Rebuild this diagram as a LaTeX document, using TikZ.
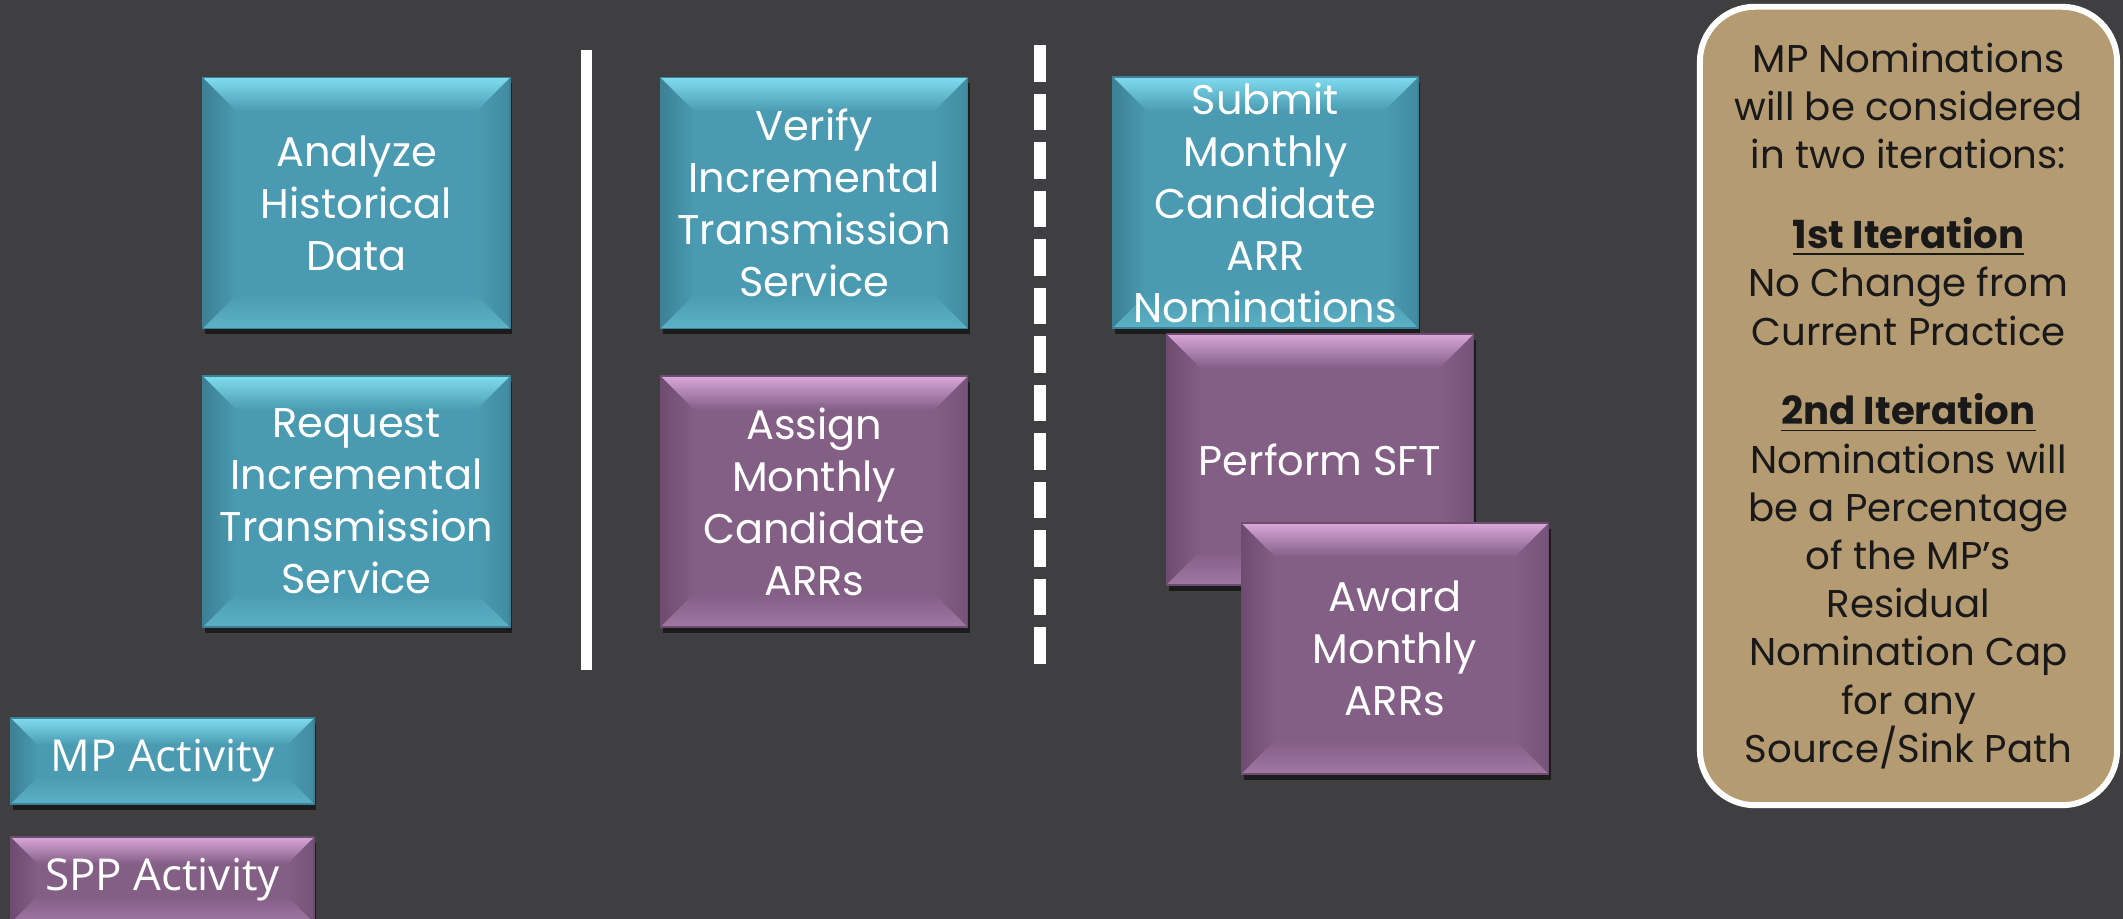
\documentclass[tikz,border=0pt]{standalone}
\usepackage{fontspec}
\setmainfont{Poppins}
\newfontfamily\legendfont{Open Sans}
\usetikzlibrary{shadows}
\usetikzlibrary{positioning}

\definecolor{slate}{HTML}{3F3F41}
\definecolor{mpteal}{HTML}{4A9BB1}
\definecolor{mptealhi}{HTML}{80DCF0}
\definecolor{mptealdk}{HTML}{3C8196}
\definecolor{spppurple}{HTML}{835E85}
\definecolor{spppurplehi}{HTML}{D8A8DA}
\definecolor{spppurpledk}{HTML}{6E4C70}
\definecolor{notetan}{HTML}{B59B72}

\tikzset{
  bevel size/.store in=\bevelw, bevel size=0.34cm,
  bevel/.style n args={3}{path picture={
    \coordinate (bnw) at (path picture bounding box.north west);
    \coordinate (bne) at (path picture bounding box.north east);
    \coordinate (bsw) at (path picture bounding box.south west);
    \coordinate (bse) at (path picture bounding box.south east);
    % side faces
    \shade[left color=#3, right color=#1] (bnw) -- ([shift={(\bevelw,-\bevelw)}]bnw) -- ([shift={(\bevelw,\bevelw)}]bsw) -- (bsw) -- cycle;
    \shade[right color=#3!60!#1, left color=#1] (bne) -- ([shift={(-\bevelw,-\bevelw)}]bne) -- ([shift={(-\bevelw,\bevelw)}]bse) -- (bse) -- cycle;
    % bottom face
    \shade[bottom color=#2!35!#1, top color=#1] (bsw) -- ([shift={(\bevelw,\bevelw)}]bsw) -- ([shift={(-\bevelw,\bevelw)}]bse) -- (bse) -- cycle;
    % top face
    \shade[top color=#2, bottom color=#1] (bnw) -- (bne) -- ([shift={(-\bevelw,-\bevelw)}]bne) -- ([shift={(\bevelw,-\bevelw)}]bnw) -- cycle;
  }},
}

\begin{document}
\begin{tikzpicture}[x=0.01cm, y=-0.01cm,
    mpstep/.style={rectangle, inner sep=0pt, minimum width=3.07cm, minimum height=2.51cm,
      fill=mpteal, draw=mptealdk, line width=0.4pt, text=white, align=center,
      font=\fontsize{11.8}{14.8}\selectfont,
      drop shadow={shadow xshift=0.6pt, shadow yshift=-1.6pt, opacity=0.55, fill=black},
      bevel={mpteal}{mptealhi}{mptealdk}},
    sppstep/.style={mpstep, fill=spppurple, draw=spppurpledk,
      bevel={spppurple}{spppurplehi}{spppurpledk}},
    mpkey/.style={mpstep, minimum width=3.03cm, minimum height=0.86cm,
      font=\legendfont\fontsize{12.5}{15}\selectfont, bevel size=0.27cm},
    sppkey/.style={sppstep, minimum width=3.03cm, minimum height=0.86cm,
      font=\legendfont\fontsize{12.5}{15}\selectfont, bevel size=0.27cm},
    notebox/.style={rectangle, rounded corners=0.55cm, fill=notetan, draw=white,
      line width=1.7pt, minimum width=4.17cm, minimum height=7.98cm, inner sep=0pt,
      text=black!90, align=center, font=\fontsize{11}{13.7}\selectfont}]

    \useasboundingbox (0,0) rectangle (2123,919);
    \fill[slate] (0,0) rectangle (2123,919);
    \clip (0,0) rectangle (2123,919);

    \coordinate (solidtop) at (586,50);
    \coordinate (solidbot) at (586,670);
    \coordinate (dashtop) at (1040,45);
    \coordinate (dashbot) at (1040,664);

    % first column
    \node[mpstep] (analyze) at (356.5,203) {Analyze\\Historical\\Data};
    \node[mpstep, below=0.46cm of analyze] (request) {Request\\Incremental\\Transmission\\Service};

    \draw[white, line width=0.11cm] (solidtop) -- (solidbot);

    % second column
    \node[mpstep, right=1.49cm of analyze] (verify) {Verify\\Incremental\\Transmission\\Service};
    \node[sppstep, below=0.46cm of verify] (assign) {Assign\\Monthly\\Candidate\\ARRs};

    \draw[white, line width=0.12cm, dash pattern=on 0.365cm off 0.12cm] (dashtop) -- (dashbot);

    % third column
    \node[mpstep, minimum width=3.05cm] (submit) at (1265.5,202.5) {Submit\\Monthly\\Candidate\\ARR\\Nominations};
    \node[sppstep] (perform) at (1320,459.5) {Perform SFT};
    \node[sppstep] (award) at (1395,648.5) {Award\\Monthly\\ARRs};

    % legend
    \node[mpkey] (mpleg) at (162.5,761) {MP Activity};
    \node[sppkey] (sppleg) at (162.5,880) {SPP Activity};

    % note
    \node[notebox] (note) at (1908.5,406) {MP Nominations\\will be considered\\in two iterations:\\[9pt]
      \textbf{\underline{1st Iteration}}\\No Change from\\Current Practice\\[9pt]
      \textbf{\underline{2nd Iteration}}\\Nominations will\\be a Percentage\\of the MP’s\\Residual\\Nomination Cap\\for any\\Source/Sink Path};

\end{tikzpicture}
\end{document}
